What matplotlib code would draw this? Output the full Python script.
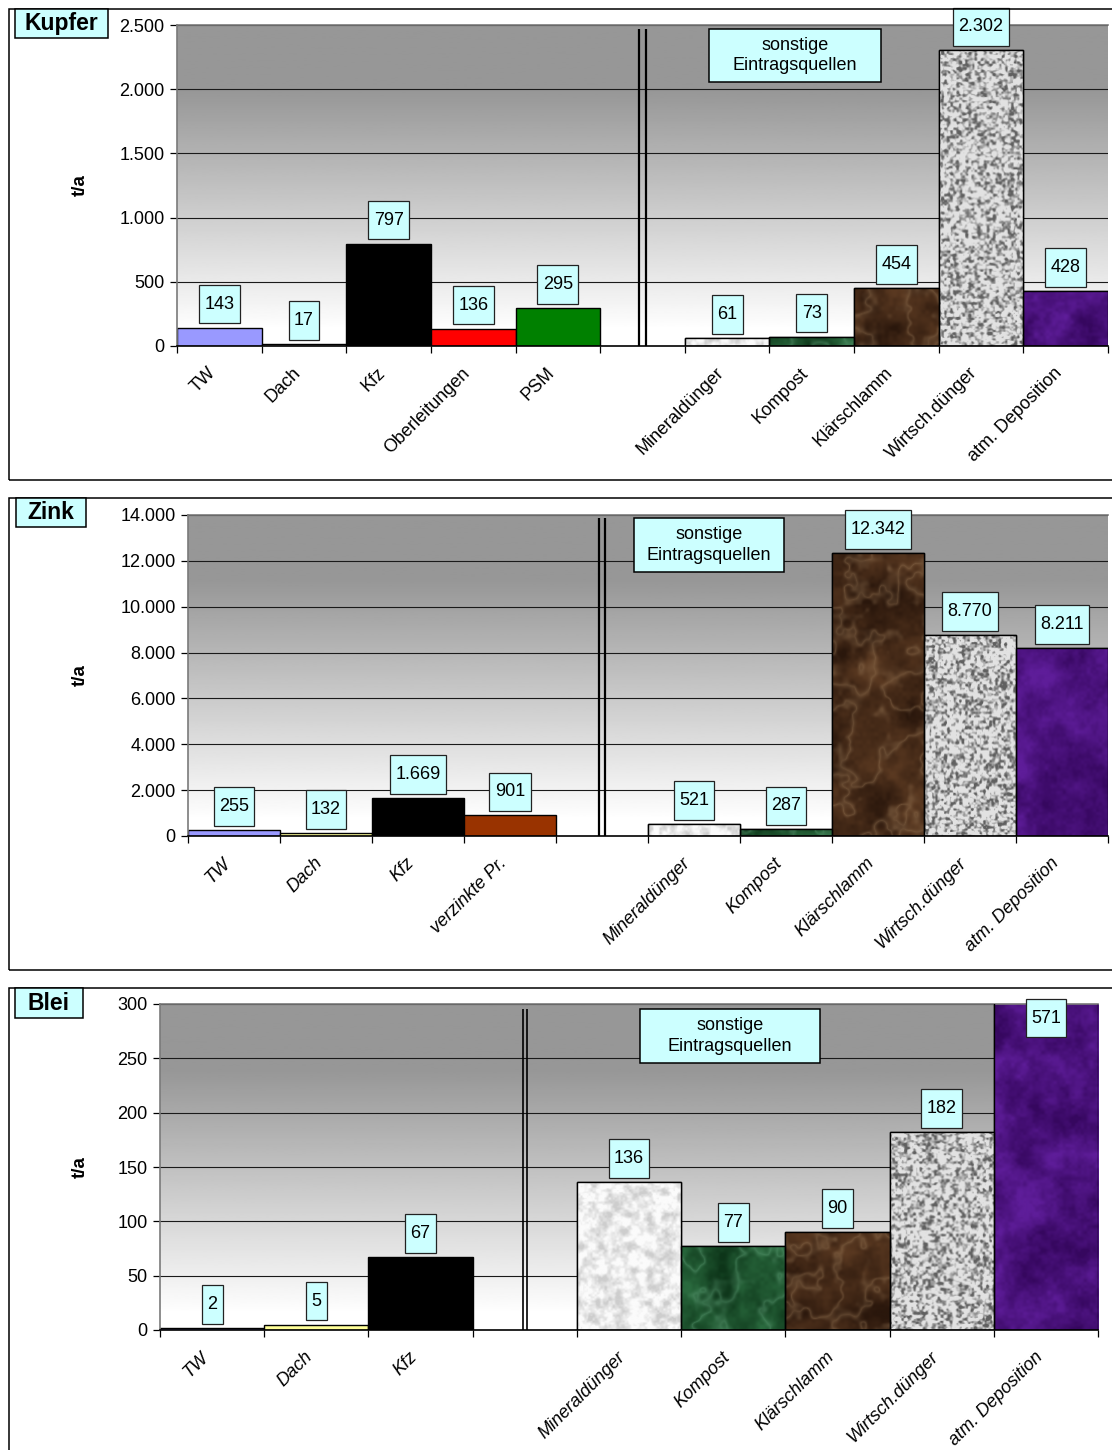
import numpy as np
import matplotlib
matplotlib.use("Agg")
import matplotlib.pyplot as plt
from matplotlib.patches import Rectangle
from matplotlib.path import Path
from matplotlib.colors import to_rgb
from matplotlib.ticker import FuncFormatter, MultipleLocator

plt.rcParams['font.family'] = ['Liberation Sans', 'DejaVu Sans']

# Eintragsquellen (t/a)
other_sources = ["Mineraldünger", "Kompost", "Klärschlamm", "Wirtsch.dünger", "atm. Deposition"]
other_textures = ["mineral", "green", "brown", "granite", "purple"]

kupfer_sources = ["TW", "Dach", "Kfz", "Oberleitungen", "PSM"]
kupfer_values = [143, 17, 797, 136, 295]
kupfer_other = [61, 73, 454, 2302, 428]
kupfer_colors = ["#9999ff", "#ffffff", "#000000", "#ff0000", "#008000"]

zink_sources = ["TW", "Dach", "Kfz", "verzinkte Pr."]
zink_values = [255, 132, 1669, 901]
zink_other = [521, 287, 12342, 8770, 8211]
zink_colors = ["#9999ff", "#ffff99", "#000000", "#993300"]

blei_sources = ["TW", "Dach", "Kfz"]
blei_values = [2, 5, 67]
blei_other = [136, 77, 90, 182, 571]
blei_colors = ["#9999ff", "#ffff99", "#000000"]

CYAN = "#ccffff"
W, H = 1112, 1450
fig = plt.figure(figsize=(W / 100, H / 100), dpi=100)
rng = np.random.default_rng(11)


def fig_rect(x0, y0, x1, y1):
    return [x0 / W, 1 - y1 / H, (x1 - x0) / W, (y1 - y0) / H]


def de_num(v):
    return f"{int(round(v)):,}".replace(",", ".")


def label_box(x0, y0, width, height, mutation_size):
    px, py = 0.3 * mutation_size, 0.6 * mutation_size
    x0, y0 = x0 - px, y0 - py
    x1, y1 = x0 + width + 2 * px, y0 + height + 2 * py
    return Path([(x0, y0), (x1, y0), (x1, y1), (x0, y1), (x0, y0)], closed=True)


# --- textures for the "sonstige" bars ---
def value_noise(h, w, cell):
    gh, gw = h // cell + 2, w // cell + 2
    g = rng.random((gh, gw))
    ys, xs = np.arange(h) / cell, np.arange(w) / cell
    y0, x0 = ys.astype(int), xs.astype(int)
    ty, tx = (ys - y0)[:, None], (xs - x0)[None, :]
    ty, tx = ty * ty * (3 - 2 * ty), tx * tx * (3 - 2 * tx)
    a, b = g[y0][:, x0], g[y0][:, x0 + 1]
    c, d = g[y0 + 1][:, x0], g[y0 + 1][:, x0 + 1]
    return (a * (1 - tx) + b * tx) * (1 - ty) + (c * (1 - tx) + d * tx) * ty


def fbm(h, w, cells):
    out, tot, amp = 0.0, 0.0, 1.0
    for c in cells:
        out = out + amp * value_noise(h, w, c)
        tot += amp
        amp *= 0.6
    t = out / tot
    return np.clip((t - t.mean()) / (t.std() + 1e-9) * 0.22 + 0.5, 0, 1)


def mix(c1, c2, t):
    c1, c2 = np.array(to_rgb(c1)), np.array(to_rgb(c2))
    t = np.asarray(t)[..., None]
    return c1 * (1 - t) + c2 * t


def ridges(h, w, cells, power=2):
    v = fbm(h, w, cells)
    return np.clip(1 - np.abs(v - 0.5) * 5, 0, 1) ** power


def marble(h, w, dark, light, vein, amount):
    base = mix(dark, light, fbm(h, w, (40, 20, 10, 4)))
    r = ridges(h, w, (34, 16, 7)) * amount
    return base * (1 - r[..., None]) + np.array(to_rgb(vein)) * r[..., None]


def texture(kind, h, w):
    if kind == "mineral":
        t = fbm(h, w, (8, 4, 2))
        return mix("#cdcdcd", "#fbfbfb", np.clip(t * 1.5 - 0.1, 0, 1))
    if kind == "granite":
        t = fbm(h, w, (3, 2))
        return mix("#606060", "#e2e2e2", np.clip((t - 0.12) / 0.5, 0, 1))
    if kind == "green":
        return marble(h, w, "#0d3519", "#2a6a3e", "#5f9f77", 0.45)
    if kind == "brown":
        return marble(h, w, "#2a170c", "#5a3921", "#9a7a58", 0.4)
    t = fbm(h, w, (30, 14, 6, 3))
    return mix("#36075f", "#5e1d99", t)


def draw_panel(title, sources, values, colors, other, ymax, step,
               frame, plot, note, title_box, sep, italic):
    # outer frame of the panel
    fy0, fy1 = frame
    fig.add_artist(Rectangle((9 / W, 1 - fy1 / H), 1.2, (fy1 - fy0) / H,
                             transform=fig.transFigure, fill=False,
                             ec="black", lw=1.1))

    x0, y0, x1, y1 = plot
    ax = fig.add_axes(fig_rect(x0, y0, x1, y1))
    n = len(sources)
    nslots = n + 1 + len(other)
    slot_px = (x1 - x0) / nslots
    plot_h = y1 - y0

    # grey gradient background
    t = np.linspace(1, 0, 300)[:, None]
    grad = 0.59 + 0.41 * (1 - np.clip((t - 0.05) / 0.75, 0, 1))
    ax.imshow(grad, cmap="gray", vmin=0, vmax=1, aspect="auto",
              extent=(0, 1, 0, 1), transform=ax.transAxes, zorder=0)

    for yv in np.arange(step, ymax + step / 2, step):
        ax.axhline(yv, color="#1a1a1a", lw=0.8, zorder=1)

    xs_direct = np.arange(n)
    xs_other = np.arange(n + 1, nslots)

    ax.bar(xs_direct, values, width=1.0, color=colors, edgecolor="black",
           lw=1.0, zorder=2)
    bars = ax.bar(xs_other, other, width=1.0, color="#999999",
                  edgecolor="black", lw=1.0, zorder=2)
    for bar, kind, v in zip(bars, other_textures, other):
        top = min(v, ymax)
        h = max(int(top / ymax * plot_h), 2)
        img = texture(kind, h, int(slot_px))
        bx = bar.get_x()
        im = ax.imshow(np.clip(img, 0, 1), extent=(bx, bx + 1, 0, top),
                       aspect="auto", interpolation="bilinear", zorder=2.5)
        im.set_clip_path(bar)
    ax.bar(xs_other, other, width=1.0, fill=False, edgecolor="black",
           lw=1.0, zorder=3)

    # value labels
    for x, v in zip(np.concatenate([xs_direct, xs_other]), list(values) + list(other)):
        box = dict(boxstyle=label_box, fc=CYAN, ec="#222222", lw=0.9)
        if v > ymax:
            ax.annotate(de_num(v), xy=(x, ymax), xytext=(0, -4),
                        textcoords="offset points", ha="center", va="top",
                        fontsize=13, bbox=box, zorder=6, annotation_clip=False)
        else:
            ax.annotate(de_num(v), xy=(x, v), xytext=(0, 10.8),
                        textcoords="offset points", ha="center", va="bottom",
                        fontsize=13, bbox=box, zorder=6, annotation_clip=False)

    # double separator line between own and other sources
    gap, lw, top_frac = sep
    for dx in (-gap, gap):
        ax.axvline(n + dx, ymin=0, ymax=top_frac, color="black", lw=lw,
                   solid_capstyle="butt", zorder=4)

    ax.set_xlim(-0.5, nslots - 0.5)
    ax.set_ylim(0, ymax)

    ax.yaxis.set_major_locator(MultipleLocator(step))
    ax.yaxis.set_major_formatter(FuncFormatter(lambda v, p: de_num(v)))
    ax.tick_params(axis="y", direction="out", length=5, width=0.9,
                   labelsize=13, pad=4)

    labels = list(sources) + [""] + list(other_sources)
    ax.set_xticks(np.arange(nslots), labels)
    ax.set_xticks(np.arange(-0.5, nslots), minor=True)
    ax.tick_params(axis="x", which="major", length=0, pad=22)
    ax.tick_params(axis="x", which="minor", direction="out", length=5,
                   width=0.9)
    for lab in ax.get_xticklabels():
        lab.set_rotation(45)
        lab.set_ha("right")
        lab.set_va("bottom")
        lab.set_rotation_mode("anchor")
        lab.set_fontsize(13)
        if italic:
            lab.set_fontstyle("italic")

    for side in ("left", "top"):
        ax.spines[side].set_color("#7a7a7a")
        ax.spines[side].set_linewidth(1.2)
    ax.spines["right"].set_visible(False)
    ax.spines["bottom"].set_color("black")
    ax.spines["bottom"].set_linewidth(1.2)

    # panel title
    tx0, ty0, tx1, ty1 = title_box
    fig.add_artist(Rectangle((tx0 / W, 1 - ty1 / H), (tx1 - tx0) / W,
                             (ty1 - ty0) / H, transform=fig.transFigure,
                             fc=CYAN, ec="black", lw=1.1))
    fig.text((tx0 + tx1) / 2 / W, 1 - (ty0 + ty1) / 2 / H, title,
             ha="center", va="center", fontsize=16.5, fontweight="bold")

    # y axis label
    fig.text(80 / W, 1 - (y0 + y1) / 2 / H, "t/a", rotation=90,
             ha="center", va="center", fontsize=13.5, fontweight="bold")

    # note box
    nx0, ny0, nx1, ny1 = note
    fig.add_artist(Rectangle((nx0 / W, 1 - ny1 / H), (nx1 - nx0) / W,
                             (ny1 - ny0) / H, transform=fig.transFigure,
                             fc=CYAN, ec="black", lw=1.1, zorder=5))
    fig.text((nx0 + nx1) / 2 / W, 1 - (ny0 + ny1) / 2 / H,
             "sonstige\nEintragsquellen", ha="center", va="center",
             fontsize=13, linespacing=1.25, zorder=6)
    return ax


draw_panel("Kupfer", kupfer_sources, kupfer_values, kupfer_colors,
           kupfer_other, 2500, 500,
           frame=(9, 480), plot=(177, 25, 1108, 346),
           note=(709, 29, 881, 82), title_box=(15, 9, 108, 38),
           sep=(0.036, 1.6, 0.988), italic=False)

draw_panel("Zink", zink_sources, zink_values, zink_colors,
           zink_other, 14000, 2000,
           frame=(498, 970), plot=(188, 515, 1108, 836),
           note=(634, 518, 784, 572), title_box=(16, 498, 86, 527),
           sep=(0.033, 1.6, 0.99), italic=True)

draw_panel("Blei", blei_sources, blei_values, blei_colors,
           blei_other, 300, 50,
           frame=(988, 1470), plot=(160, 1004, 1098, 1330),
           note=(640, 1009, 820, 1063), title_box=(15, 988, 83, 1018),
           sep=(0.02, 1.2, 0.985), italic=True)

fig.savefig("out.png", dpi=100)
